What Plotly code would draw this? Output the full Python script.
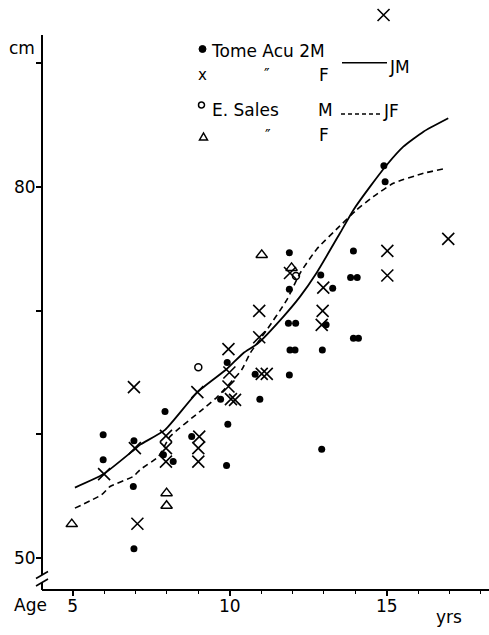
import plotly.graph_objects as go

# ---------------- data ----------------
tome_m_age = [11.9, 13.94, 12.9, 13.85, 14.06, 11.9, 13.28, 11.87, 12.1, 13.07, 13.94, 14.1,
              11.92, 12.08, 12.95, 9.92, 10.81, 11.9, 9.71, 10.96, 9.94, 12.93, 9.9, 7.94,
              5.97, 8.79, 6.95, 7.89, 8.2, 5.97, 6.93, 6.95, 14.91, 14.95]
tome_m_cm = [74.67, 74.81, 72.87, 72.66, 72.66, 71.72, 71.8, 68.97, 68.97, 68.84, 67.76, 67.76,
             66.82, 66.82, 66.82, 65.81, 64.86, 64.8, 62.84, 62.84, 60.82, 58.8, 57.48, 61.84,
             59.96, 59.82, 59.48, 58.35, 57.8, 57.94, 55.79, 50.76, 81.69, 80.4]

tome_f_age = [14.9, 15.02, 15.02, 16.96, 12.98, 12.96, 12.93, 10.94, 10.94, 9.96, 9.99, 11.02,
              11.18, 9.96, 10.04, 10.17, 6.95, 8.97, 7.97, 9.03, 6.98, 7.97, 9.0, 7.97, 9.0,
              6.0, 7.06, 11.92]
tome_f_cm = [93.86, 74.81, 72.83, 75.78, 71.85, 69.97, 68.84, 69.97, 67.84, 66.88, 64.99, 64.88,
             64.88, 63.86, 62.84, 62.78, 63.81, 63.41, 59.88, 59.82, 58.89, 58.89, 58.89, 57.8,
             57.8, 56.79, 52.78, 73.03]

sales_m_age = [9.0, 12.11]
sales_m_cm = [65.42, 72.79]

sales_f_age = [11.02, 11.97, 7.99, 7.99, 4.97]
sales_f_cm = [74.49, 73.44, 55.25, 54.23, 52.75]

jm_age = [5.07, 5.97, 6.93, 7.14, 7.94, 8.97, 9.9, 10.43, 10.9, 11.71, 12.24, 12.77,
          13.51, 13.94, 14.47, 15.0, 15.53, 16.17, 16.96]
jm_cm = [55.7, 56.77, 58.7, 59.15, 60.36, 63.41, 65.26, 66.55, 67.35, 69.51, 71.12, 73.05,
         76.24, 78.12, 80.0, 81.75, 83.23, 84.44, 85.52]

jf_age = [5.07, 5.92, 6.19, 6.93, 7.14, 7.73, 8.1, 9.05, 9.59, 10.38, 10.65, 11.18, 11.82,
          12.24, 12.77, 13.51, 14.04, 14.57, 15.21, 16.17, 16.8]
jf_cm = [54.04, 55.12, 55.79, 56.6, 57.13, 58.21, 59.82, 61.84, 62.99, 65.21, 66.55, 68.43,
         70.86, 73.01, 74.95, 76.83, 78.12, 79.19, 80.27, 81.08, 81.43]

x_tick_vals = [5, 10, 15]
y_tick_vals = [50, 60, 70, 80, 90]
y_tick_text = ["50", "", "", "80", ""]

# ---------------- layout helpers ----------------
W, H = 489, 635
L, T, R, B = 42, 5, 0, 46
PW, PH = W - L - R, H - T - B
FONT = "DejaVu Sans"


def px(x):
    return (x - L) / PW


def py(y):
    return (H - B - y) / PH


fig = go.Figure()

fig.add_trace(go.Scatter(x=jm_age, y=jm_cm, mode="lines",
                         line=dict(color="black", width=1.8, shape="spline", smoothing=0.5),
                         hoverinfo="skip"))
fig.add_trace(go.Scatter(x=jf_age, y=jf_cm, mode="lines",
                         line=dict(color="black", width=1.6, dash="6px,4px", shape="spline", smoothing=0.5),
                         hoverinfo="skip"))
fig.add_trace(go.Scatter(x=tome_m_age, y=tome_m_cm, mode="markers",
                         marker=dict(symbol="circle", size=7, color="black")))
fig.add_trace(go.Scatter(x=tome_f_age, y=tome_f_cm, mode="markers",
                         marker=dict(symbol="x-thin-open", size=12, color="black",
                                     line=dict(color="black", width=1.6))))
fig.add_trace(go.Scatter(x=sales_m_age, y=sales_m_cm, mode="markers",
                         marker=dict(symbol="circle-open", size=7, color="black",
                                     line=dict(color="black", width=1.5))))
fig.add_trace(go.Scatter(x=sales_f_age, y=sales_f_cm, mode="markers",
                         marker=dict(symbol="triangle-up-open", size=10, color="black",
                                     line=dict(color="black", width=1.5))))

ann = []


def text(x, y, s, size=17, anchor="left"):
    ann.append(dict(x=px(x), y=py(y), xref="paper", yref="paper", text=s, showarrow=False,
                    xanchor=anchor, yanchor="middle", font=dict(family=FONT, size=size, color="black")))


text(22, 48, "cm", anchor="center")
text(30, 605, "Age", anchor="center")
text(449, 617, "yrs", anchor="center")
# legend block
text(209, 51, "Tome Acu 2M")
text(202, 75, "x", size=15, anchor="center")
text(267, 75, "″", size=15, anchor="center")
text(324, 75, "F", anchor="center")
text(387, 67, "JM")
text(210, 110, "E. Sales")
text(325, 110, "M", anchor="center")
text(381, 111, "JF")
text(268, 136, "″", size=15, anchor="center")
text(324, 135, "F", anchor="center")

shapes = []
# legend markers
shapes.append(dict(type="circle", xref="paper", yref="paper", x0=px(199), x1=px(206), y0=py(52.5), y1=py(45.5),
                   fillcolor="black", line=dict(color="black", width=1)))
shapes.append(dict(type="circle", xref="paper", yref="paper", x0=px(198.5), x1=px(204.5), y0=py(108), y1=py(102),
                   line=dict(color="black", width=1.5)))
shapes.append(dict(type="path", xref="paper", yref="paper",
                   path=f"M{px(199.5)},{py(140)} L{px(207.5)},{py(140)} L{px(203.5)},{py(133)} Z",
                   line=dict(color="black", width=1.5)))
shapes.append(dict(type="line", xref="paper", yref="paper", x0=px(342), x1=px(387), y0=py(62.7), y1=py(62.7),
                   line=dict(color="black", width=1.5)))
shapes.append(dict(type="line", xref="paper", yref="paper", x0=px(341), x1=px(381), y0=py(114), y1=py(114),
                   line=dict(color="black", width=1.5, dash="4px,3px")))
# y axis line (drawn from the top of the axis down to the break, and from the break to the origin)
shapes.append(dict(type="line", xref="paper", yref="paper", x0=0, x1=0, y0=py(35), y1=py(575),
                   line=dict(color="black", width=2)))
shapes.append(dict(type="line", xref="paper", yref="paper", x0=0, x1=0, y0=py(582), y1=py(590),
                   line=dict(color="black", width=2)))
# axis break marks
shapes.append(dict(type="line", xref="paper", yref="paper", x0=px(36), x1=px(48), y0=py(578.5), y1=py(571.5),
                   line=dict(color="black", width=1.6)))
shapes.append(dict(type="line", xref="paper", yref="paper", x0=px(36), x1=px(48), y0=py(586), y1=py(579),
                   line=dict(color="black", width=1.6)))

fig.update_layout(
    width=W, height=H, autosize=False,
    margin=dict(l=L, r=R, t=T, b=B, pad=0),
    paper_bgcolor="white", plot_bgcolor="white",
    showlegend=False,
    font=dict(family=FONT, size=17, color="black"),
    annotations=ann, shapes=shapes,
    xaxis=dict(range=[4.022, 18.258], showline=True, linecolor="black", linewidth=2,
               showgrid=False, zeroline=False, ticks="outside", tickvals=x_tick_vals,
               ticklen=5, tickwidth=1.5, tickcolor="black", ticklabelstandoff=-4,
               minor=dict(dtick=1, tick0=0, ticks="outside", ticklen=3, tickwidth=1.2, tickcolor="black"),
               tickfont=dict(family=FONT, size=17, color="black")),
    yaxis=dict(range=[47.51, 94.67], showline=False,
               showgrid=False, zeroline=False, ticks="outside", tickvals=y_tick_vals,
               ticktext=y_tick_text, ticklen=5, tickwidth=1.5, tickcolor="black", ticklabelstandoff=-3,
               tickfont=dict(family=FONT, size=17, color="black")),
)

fig.write_html("out.html", post_script="document.body.style.margin='0px';",
               config={"displayModeBar": False})
